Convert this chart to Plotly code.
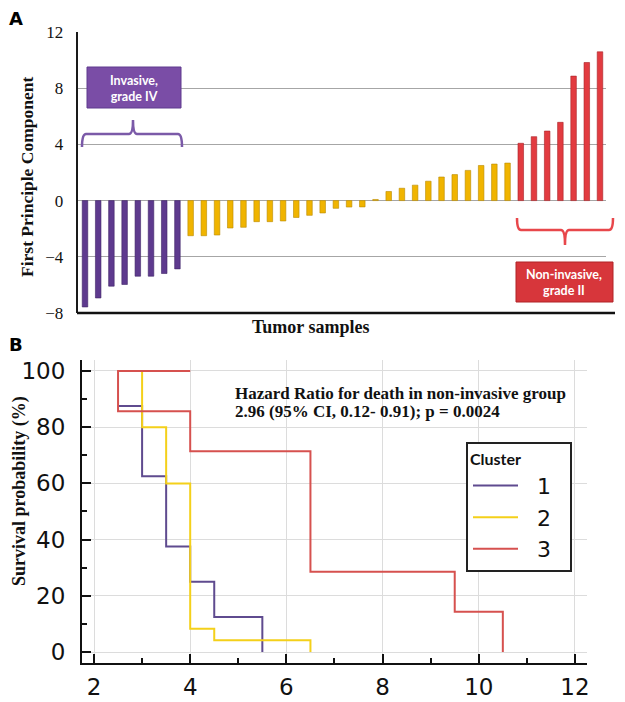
import plotly.graph_objects as go

# ---------------- data ----------------
# Panel A: first principal component per tumour sample (sorted)
pc_invasive = [-7.57, -6.93, -6.09, -5.97, -5.38, -5.38, -5.19, -4.86]
pc_middle = [-2.5, -2.5, -2.45, -1.95, -1.9, -1.5, -1.5, -1.45, -1.2, -1.05,
             -0.88, -0.55, -0.46, -0.45, 0.08, 0.65, 0.88, 1.1, 1.38, 1.68,
             1.85, 2.15, 2.5, 2.6, 2.67]
pc_noninvasive = [4.08, 4.55, 4.95, 5.57, 8.86, 9.83, 10.59]
yticks_a = [-8, -4, 0, 4, 8, 12]

# Panel B: Kaplan-Meier steps (time, survival %), drawn with horizontal-then-vertical steps
km_names = ["1", "2", "3"]
km_time = [
    [2.5, 3, 3.5, 4, 4.5, 5.5],
    [3, 3, 3.5, 4, 4.5, 6.5],
    [4, 2.5, 4, 6.5, 9.5, 10.5],
]
km_surv = [
    [87.5, 62.5, 37.5, 25, 12.5, 0],
    [100, 80, 60, 8.3, 4.2, 0],
    [100, 85.7, 71.4, 28.6, 14.3, 0],
]
xticks_b = [2, 4, 6, 8, 10, 12]
yticks_b = [0, 20, 40, 60, 80, 100]

# ---------------- styling ----------------
W, H = 625, 702
def px(x):
    return x / W
def py(y):
    return 1 - y / H

bar_colors = ["#5E3A8E", "#F0B400", "#E23B40"]
bar_edges = ["#3F2566", "#B88900", "#A82226"]
km_colors = ["#5F4B8F", "#F4D01A", "#D6514F"]
SERIF = "Liberation Serif"
NB = "\u00a0"

fig = go.Figure()

groups = [pc_invasive, pc_middle, pc_noninvasive]
start = 0
for vals, c, e in zip(groups, bar_colors, bar_edges):
    xs = list(range(start, start + len(vals)))
    fig.add_trace(go.Bar(x=xs, y=vals, width=0.42, marker=dict(color=c, line=dict(color=e, width=0.6)),
                         showlegend=False, xaxis="x", yaxis="y", hoverinfo="y"))
    start += len(vals)

for name, t, s, c in zip(km_names, km_time, km_surv, km_colors):
    fig.add_trace(go.Scatter(x=t, y=s, mode="lines", line=dict(color=c, width=2, shape="hv"),
                             name=NB * 2 + name + NB * 2, xaxis="x2", yaxis="y2"))

# panel A axes: index 0 at 85px, 13.205 px per sample
x0a, dxa = 85, 13.205
xa_lo = -0.55
xa_hi = (606 - x0a) / dxa
fig.update_layout(
    xaxis=dict(domain=[px(x0a + xa_lo * dxa), px(606)], range=[xa_lo, xa_hi],
               showgrid=False, zeroline=False, showticklabels=False, ticks="",
               showline=False, anchor="y", fixedrange=True, automargin=False),
    yaxis=dict(domain=[py(313), py(32)], range=[-8, 12], tickvals=yticks_a,
               showgrid=True, gridcolor="#A6A6A6", gridwidth=1, zeroline=False,
               showline=True, linecolor="#1a1a1a", linewidth=2, ticks="",
               ticklabelstandoff=9, automargin=False,
               tickfont=dict(family=SERIF, size=17, color="#111"), anchor="x"),
    xaxis2=dict(domain=[px(82), px(587)], range=[1.7505, 12.25], tickvals=xticks_b,
                showgrid=True, gridcolor="#DCDCDC", gridwidth=1, zeroline=False,
                showline=True, linecolor="#111", linewidth=2,
                ticks="inside", ticklen=9, tickwidth=2, tickcolor="#111",
                minor=dict(dtick=1, tick0=1, ticks="inside", ticklen=5, tickwidth=1.5,
                           tickcolor="#111", showgrid=False),
                ticklabelstandoff=2, automargin=False,
                tickfont=dict(family="DejaVu Sans", size=23, color="#111"), anchor="y2"),
    yaxis2=dict(domain=[py(663), py(360)], range=[-3.91, 103.9], tickvals=yticks_b,
                showgrid=True, gridcolor="#DCDCDC", gridwidth=1, zeroline=False,
                showline=True, linecolor="#111", linewidth=2,
                ticks="inside", ticklen=9, tickwidth=2, tickcolor="#111",
                minor=dict(dtick=10, tick0=10, ticks="inside", ticklen=5, tickwidth=1.5,
                           tickcolor="#111", showgrid=False),
                ticklabelstandoff=10, automargin=False,
                tickfont=dict(family="DejaVu Sans", size=23, color="#111"), anchor="x2"),
)

shapes = []
# bottom axis line of panel A (extends a little past the grid)
shapes.append(dict(type="line", xref="paper", yref="paper", x0=px(77), x1=px(615), y0=py(313), y1=py(313),
                   line=dict(color="#111", width=2.5)))
# purple box + brace
shapes.append(dict(type="rect", xref="paper", yref="paper", x0=px(87), x1=px(181), y0=py(108), y1=py(67),
                   fillcolor="#7A4DA6", line=dict(color="#5E3A8E", width=1)))
def brace(xl, xr, xc, ybar, yend, ytip):
    pts = (f"M{px(xl)},{py(yend)} Q{px(xl)},{py(ybar)} {px(xl+4)},{py(ybar)} "
           f"L{px(xc-4)},{py(ybar)} Q{px(xc)},{py(ybar)} {px(xc)},{py(ytip)} "
           f"Q{px(xc)},{py(ybar)} {px(xc+4)},{py(ybar)} "
           f"L{px(xr-4)},{py(ybar)} Q{px(xr)},{py(ybar)} {px(xr)},{py(yend)}")
    return pts
shapes.append(dict(type="path", xref="paper", yref="paper", path=brace(82, 182, 133, 134, 147, 120),
                   line=dict(color="#7B5AA8", width=2.5)))
# red box + brace
shapes.append(dict(type="rect", xref="paper", yref="paper", x0=px(516), x1=px(613), y0=py(302), y1=py(262),
                   fillcolor="#D7363B", line=dict(color="#B02226", width=1)))
shapes.append(dict(type="path", xref="paper", yref="paper", path=brace(517, 613, 565, 230, 218, 245),
                   line=dict(color="#E8474B", width=2.5)))
fig.update_layout(shapes=shapes)

def note(text, x, y, size, family, color="#111", angle=0, xanchor="center"):
    return dict(text=text, x=px(x), y=py(y), xref="paper", yref="paper", xanchor=xanchor,
                yanchor="middle", textangle=angle, showarrow=False,
                font=dict(family=family, size=size, color=color))

ann = [
    note("<b>A</b>", 7, 18, 18, "DejaVu Sans", "#000", xanchor="left"),
    note("<b>B</b>", 7, 344, 18, "DejaVu Sans", "#000", xanchor="left"),
    note("<b>First Principle Component</b>", 27, 177, 17.5, SERIF, angle=-90),
    note("<b>Tumor samples</b>", 311, 327, 18, SERIF),
    note("<b>Invasive,<br>grade IV</b>", 134, 88, 12.5, "Lato", "white"),
    note("<b>Non-invasive,<br>grade II</b>", 564, 282, 12.5, "Lato", "white"),
    note("<b>Survival probability (%)</b>", 19, 491, 18, SERIF, angle=-90),
    note("<b>Hazard Ratio for death in non-invasive group</b>", 233, 393, 17, SERIF, xanchor="left"),
    note("<b>2.96 (95% CI, 0.12- 0.91); p = 0.0024</b>", 233, 412, 17, SERIF, xanchor="left"),
]
fig.update_layout(annotations=ann)

fig.update_layout(
    width=W, height=H, margin=dict(l=0, r=0, t=0, b=0, autoexpand=False),
    paper_bgcolor="white", plot_bgcolor="white", bargap=0.5,
    showlegend=True,
    legend=dict(x=px(466), y=py(442), xanchor="left", yanchor="top",
                bgcolor="white", bordercolor="#222", borderwidth=2,
                title=dict(text="<b>Cluster</b>" + NB * 4, font=dict(family="Lato", size=16, color="#111")),
                font=dict(family="DejaVu Sans", size=22, color="#111"),
                itemwidth=45, tracegroupgap=0),
)

fig.write_html("out.html", config={"displayModeBar": False},
               post_script="document.body.style.margin='0px';")
